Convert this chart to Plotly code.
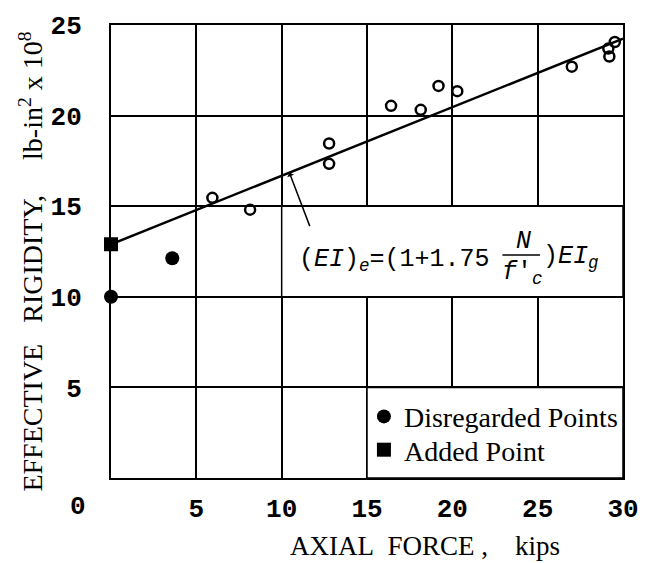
import plotly.graph_objects as go

# ---- data ----
test_force = [5.94, 8.15, 12.78, 12.78, 16.41, 18.15, 19.19, 20.29, 27.0, 29.2, 29.14, 29.52]
test_ei = [15.46, 14.81, 18.46, 17.34, 20.54, 20.32, 21.64, 21.35, 22.70, 23.26, 23.70, 24.06]

disregarded_force = [0.0, 3.59]
disregarded_ei = [10.0, 12.13]

added_force = [0.0]
added_ei = [12.9]

fit_force = [0.0, 30.0]
fit_ei = [12.9, 24.25]

x_ticks = [5, 10, 15, 20, 25, 30]
y_ticks = [5, 10, 15, 20, 25]

TICK_FONT = dict(family="Liberation Mono", size=26, color="black", weight="bold")
SERIF = "Liberation Serif"
MONO = "Liberation Mono"

fig = go.Figure()

fig.add_trace(go.Scatter(
    x=fit_force, y=fit_ei, mode="lines",
    line=dict(color="black", width=2.5), showlegend=False, hoverinfo="skip"))

fig.add_trace(go.Scatter(
    x=test_force, y=test_ei, mode="markers",
    marker=dict(symbol="circle-open", size=10, color="black", line=dict(width=2.5, color="black")),
    showlegend=False, cliponaxis=False))

fig.add_trace(go.Scatter(
    x=disregarded_force, y=disregarded_ei, mode="markers", name="Disregarded Points",
    marker=dict(symbol="circle", size=14, color="black"), cliponaxis=False, legend="legend"))

fig.add_trace(go.Scatter(
    x=added_force, y=added_ei, mode="markers", name="Added Point",
    marker=dict(symbol="square", size=14, color="black"), cliponaxis=False, legend="legend2"))

# white boxes hiding the grid behind the formula and the legend
fig.add_shape(type="rect", xref="x", yref="y", x0=10, x1=30, y0=10, y1=15,
              fillcolor="white", line=dict(color="black", width=1.5), layer="between")
fig.add_shape(type="rect", xref="x", yref="y", x0=15, x1=30, y0=0, y1=5,
              fillcolor="white", line=dict(color="black", width=1.5), layer="between")

# formula pieces
FORM_FONT = dict(family=MONO, size=25, color="black")
fig.add_annotation(xref="paper", yref="paper", x=0.363, y=0.480, xanchor="left", yanchor="middle",
                   text="(<i>EI</i>)<sub><i>e</i></sub>=(1+1.75", showarrow=False, font=FORM_FONT)
fig.add_annotation(xref="paper", yref="paper", x=0.805, y=0.521, xanchor="center", yanchor="middle",
                   text="<i>N</i>", showarrow=False, font=FORM_FONT)
fig.add_shape(type="line", xref="paper", yref="paper", x0=0.7645, x1=0.838, y0=0.492, y1=0.492,
              line=dict(color="black", width=1.5))
fig.add_annotation(xref="paper", yref="paper", x=0.803, y=0.452, xanchor="center", yanchor="middle",
                   text="<i>f</i>'<sub><i>c</i></sub>", showarrow=False, font=FORM_FONT)
fig.add_annotation(xref="paper", yref="paper", x=0.840, y=0.486, xanchor="left", yanchor="middle",
                   text=")<i>EI</i><sub><i>g</i></sub>", showarrow=False, font=FORM_FONT)

# arrow pointing at the fit line
fig.add_annotation(x=10.45, y=12.9 + (24.25 - 12.9) / 30 * 10.45, xref="x", yref="y",
                   ax=21, ay=55, text="", showarrow=True, arrowhead=1, arrowsize=0.8,
                   arrowwidth=1.5, arrowcolor="black")

# corner "0" label
fig.add_annotation(xref="paper", yref="paper", x=-0.064, y=-0.065, text="0", showarrow=False,
                   xanchor="center", yanchor="middle", font=TICK_FONT)

# axis titles
fig.add_annotation(xref="paper", yref="paper", x=-0.155, y=0.477, textangle=-90,
                   text="EFFECTIVE\u00a0\u00a0\u00a0RIGIDITY,\u00a0\u00a0\u00a0\u00a0\u00a0lb-in<sup>2</sup>\u00a0x\u00a010<sup>8</sup>",
                   showarrow=False, xanchor="center", yanchor="middle",
                   font=dict(family=SERIF, size=28, color="black"))
fig.add_annotation(xref="paper", yref="paper", x=0.613, y=-0.150,
                   text="AXIAL\u00a0\u00a0FORCE\u00a0,\u00a0\u00a0\u00a0\u00a0kips",
                   showarrow=False, xanchor="center", yanchor="middle",
                   font=dict(family=SERIF, size=27, color="black"))

fig.update_xaxes(range=[0, 30], tickvals=x_ticks, ticktext=[str(v) for v in x_ticks],
                 showgrid=True, gridcolor="black", gridwidth=1.5, zeroline=False,
                 showline=True, linecolor="black", linewidth=2, mirror=True,
                 ticks="", ticklabelstandoff=6, tickfont=TICK_FONT)
fig.update_yaxes(range=[0, 25], tickvals=y_ticks, ticktext=[str(v) for v in y_ticks],
                 showgrid=True, gridcolor="black", gridwidth=1.5, zeroline=False,
                 showline=True, linecolor="black", linewidth=2, mirror=True,
                 ticks="", ticklabelstandoff=22, tickfont=TICK_FONT)

LEG_FONT = dict(family=SERIF, size=28, color="black")
fig.update_layout(
    width=651, height=563,
    margin=dict(l=111, r=22, t=25, b=85),
    plot_bgcolor="white", paper_bgcolor="white",
    legend=dict(x=0.494, y=0.1905, xanchor="left", yanchor="top",
                bgcolor="rgba(0,0,0,0)", font=LEG_FONT, itemsizing="trace"),
    legend2=dict(x=0.494, y=0.117, xanchor="left", yanchor="top",
                 bgcolor="rgba(0,0,0,0)", font=LEG_FONT, itemsizing="trace"),
)

fig.write_html("out.html")
